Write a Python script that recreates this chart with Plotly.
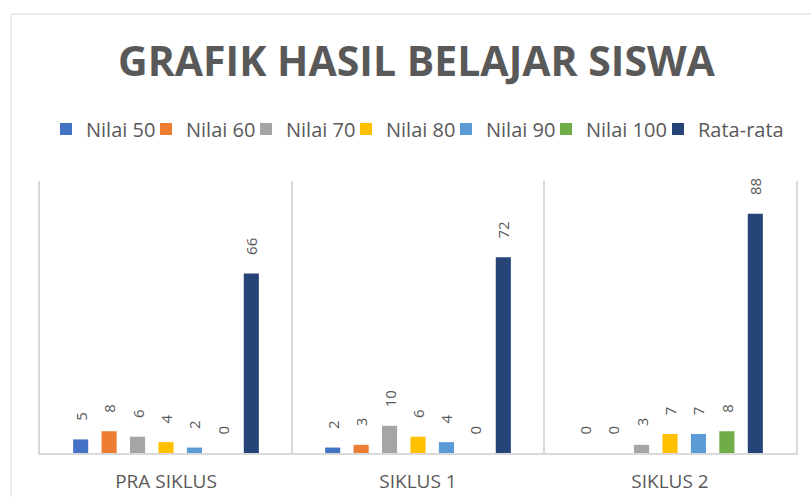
import plotly.graph_objects as go

categories = ["PRA SIKLUS", "SIKLUS 1", "SIKLUS 2"]
series_names = ["Nilai 50", "Nilai 60", "Nilai 70", "Nilai 80", "Nilai 90", "Nilai 100", "Rata-rata"]
nilai_50 = [5, 2, 0]
nilai_60 = [8, 3, 0]
nilai_70 = [6, 10, 3]
nilai_80 = [4, 6, 7]
nilai_90 = [2, 4, 7]
nilai_100 = [0, 0, 8]
rata_rata = [66, 72, 88]
series_values = [nilai_50, nilai_60, nilai_70, nilai_80, nilai_90, nilai_100, rata_rata]
colors = ["#4472C4", "#ED7D31", "#A5A5A5", "#FFC000", "#5B9BD5", "#70AD47", "#264478"]
legend_widths = [None, None, None, None, None, 67, 95]

FONT = "Open Sans"
GRAY = "#595959"
PAD = "\u00a0" * 4

fig = go.Figure()
for name, vals, col, lw in zip(series_names, series_values, colors, legend_widths):
    fig.add_trace(go.Bar(
        x=categories, y=vals, name=name,
        marker=dict(color=col, line=dict(width=0)),
        text=[PAD + str(v) for v in vals],
        textposition="outside", textangle=-90,
        textfont=dict(family=FONT, size=15, color=GRAY),
        constraintext="none", cliponaxis=False,
        legendwidth=lw,
    ))

# plot-area pixel geometry
L, R, T, B = 40, 15, 181, 44
W, H = 811, 497
pw, ph = W - L - R, H - T - B

def px_x(p):
    return (p - L) / pw

def px_y(p):
    return (H - B - p) / ph

fig.add_shape(type="rect", xref="paper", yref="paper",
              x0=px_x(11), x1=px_x(830), y0=px_y(14), y1=px_y(520),
              line=dict(color="#D9D9D9", width=1), fillcolor="rgba(0,0,0,0)", layer="below")

fig.update_layout(
    width=W, height=H,
    margin=dict(l=L, r=R, t=T, b=B, autoexpand=False),
    paper_bgcolor="white", plot_bgcolor="white",
    barmode="group", bargap=0.21, bargroupgap=0.47,
    font=dict(family=FONT, color=GRAY),
    title=dict(text="<b>GRAFIK HASIL BELAJAR SISWA</b>", x=416.5 / W, xref="container",
               xanchor="center", y=1 - 62 / H, yanchor="middle",
               font=dict(family=FONT, size=41, color=GRAY)),
    legend=dict(orientation="h", x=px_x(46), xanchor="left", y=px_y(129), yanchor="middle",
                font=dict(family=FONT, size=20, color=GRAY),
                entrywidth=55, entrywidthmode="pixels", traceorder="normal",
                bgcolor="rgba(0,0,0,0)"),
    xaxis=dict(type="category", tickson="boundaries", showgrid=True, gridcolor="#D9D9D9",
               gridwidth=1.5, showline=True, linecolor="#D9D9D9", linewidth=1.5, ticks="",
               tickfont=dict(family=FONT, size=19, color=GRAY), ticklabelstandoff=10,
               automargin=False, fixedrange=True),
    yaxis=dict(range=[0, 100], showgrid=False, showticklabels=False, zeroline=False,
               showline=True, mirror=True, linecolor="#D9D9D9", linewidth=1.5, ticks="",
               automargin=False, fixedrange=True),
    showlegend=True,
)

fig.write_html("out.html")
